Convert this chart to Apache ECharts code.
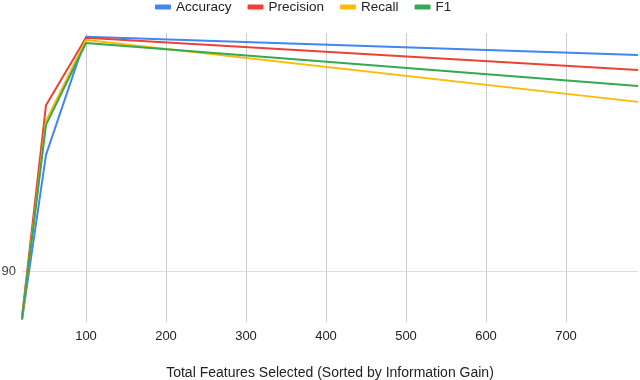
<!DOCTYPE html>
<html lang="en">
<head>
    <meta charset="UTF-8">
    <script src="https://cdn.jsdelivr.net/npm/echarts@6/dist/echarts.min.js"></script>
    <style>
        html, body { margin: 0; padding: 0; background: #fff; }
    </style>
</head>
<body>
    <div id="main" style="width: 640px;height:380px;"></div>
    <script type="text/javascript">
        // features selected (x) and scores per metric
        const features = [20, 50, 100, 790];
        const accuracy = [88.08, 94.55, 99.18, 98.47];
        const precision = [88.2, 96.5, 99.14, 97.88];
        const recall = [88.1, 95.88, 99.06, 96.63];
        const f1 = [88.12, 95.73, 98.94, 97.25];
        const xTicks = [100, 200, 300, 400, 500, 600, 700];

        const names = ['Accuracy', 'Precision', 'Recall', 'F1'];
        const colors = ['#4285F4', '#EA4335', '#FBBC04', '#34A853'];
        const values = [accuracy, precision, recall, f1];

        var myChart = echarts.init(document.getElementById('main'));
        myChart.setOption({
            animation: false,
            color: colors,
            textStyle: { fontFamily: 'Arial, "Liberation Sans", sans-serif' },
            legend: {
                top: 0,
                left: 155,
                padding: 0,
                itemWidth: 16,
                itemHeight: 5,
                itemGap: 16,
                icon: 'roundRect',
                textStyle: { fontSize: 13.5, color: '#222' },
                data: names
            },
            grid: { left: 22, right: 2, top: 33, bottom: 58, outerBoundsMode: 'none', containLabel: false },
            xAxis: {
                type: 'value',
                min: 20,
                max: 790,
                name: 'Total Features Selected (Sorted by Information Gain)',
                nameLocation: 'middle',
                nameGap: 44,
                nameTextStyle: { fontSize: 14, color: '#222' },
                axisLine: { show: false },
                axisTick: { show: false, customValues: xTicks },
                axisLabel: { customValues: xTicks, fontSize: 13, color: '#222', margin: 8 },
                splitLine: { show: true, lineStyle: { color: '#ccc', width: 1 } }
            },
            yAxis: {
                type: 'value',
                min: 88,
                max: 99.33,
                interval: 2,
                axisLine: { show: false },
                axisTick: { show: false },
                axisLabel: {
                    fontSize: 13, color: '#444', margin: 6, showMaxLabel: false,
                    formatter: v => (v === 90 ? '90' : '')
                },
                splitLine: {
                    show: true,
                    lineStyle: { color: ['transparent', '#ddd', 'transparent', 'transparent', 'transparent', 'transparent', 'transparent', 'transparent'] }
                }
            },
            series: names.map((n, i) => ({
                name: n,
                type: 'line',
                symbol: 'none',
                lineStyle: { width: 2 },
                data: features.map((x, j) => [x, values[i][j]])
            }))
        });
    </script>
</body>
</html>
